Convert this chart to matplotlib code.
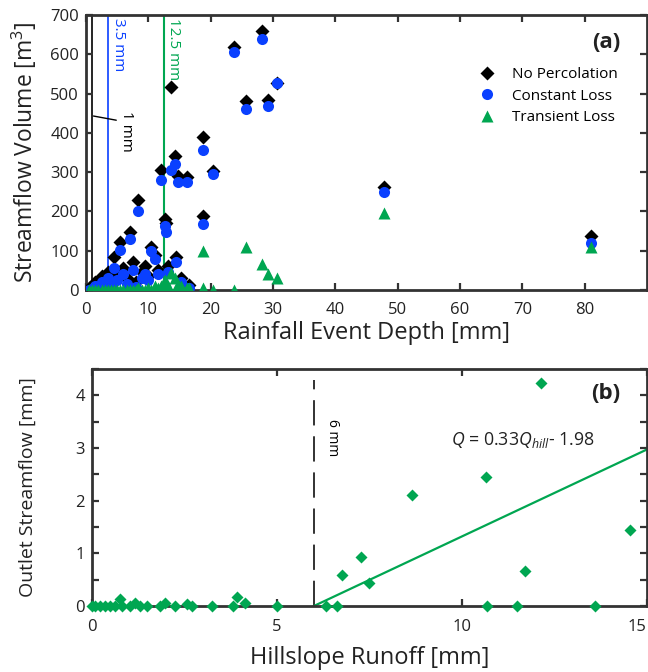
import matplotlib
matplotlib.use("Agg")
import matplotlib.pyplot as plt
from matplotlib.ticker import MultipleLocator

plt.rcParams['font.family'] = ['Open Sans', 'DejaVu Sans']
plt.rcParams['mathtext.fontset'] = 'custom'
plt.rcParams['mathtext.it'] = 'Open Sans:italic'
plt.rcParams['mathtext.rm'] = 'Open Sans'

# ---- Panel (a): event streamflow volume vs rainfall depth ----
rain_depth = [0.5, 1.0, 1.5, 2.0, 2.5, 3.0, 3.5, 4.0, 4.5, 5.0, 5.5, 6.0, 6.5, 7.0,
              7.5, 8.0, 8.4, 9.0, 9.5, 10.0, 10.4, 11.0, 11.5, 12.0, 12.6, 12.8,
              13.2, 13.7, 14.3, 14.4, 14.7, 15.2, 16.2, 16.5, 18.8, 18.8, 20.4,
              23.8, 25.7, 28.3, 29.2, 30.7, 47.8, 81.0]
no_percolation = [5, 8, 20, 3, 35, 15, 45, 25, 83, 40, 123, 55, 30, 148,
                  70, 20, 229, 45, 60, 35, 110, 90, 50, 305, 182, 170,
                  60, 517, 341, 85, 290, 30, 288, 12, 390, 188, 304,
                  619, 482, 659, 484, 527, 262, 138]
constant_loss = [0, 2, 10, 0, 20, 5, 30, 10, 55, 25, 102, 40, 15, 131,
                 50, 8, 202, 30, 40, 25, 100, 80, 40, 280, 163, 147,
                 45, 305, 322, 72, 276, 20, 276, 5, 356, 167, 296,
                 606, 462, 640, 468, 526, 250, 120]
transient_loss = [0, 0, 0, 0, 0, 0, 0, 0, 0, 0, 0, 0, 0, 0,
                  0, 0, 5, 0, 0, 5, 0, 10, 5, 10, 25, 5,
                  10, 42, 30, 5, 5, 10, 5, 5, 98, 5, 0,
                  0, 110, 65, 40, 30, 195, 110]

# ---- Panel (b): outlet streamflow vs hillslope runoff ----
hill_runoff = [0.0, 0.08, 0.22, 0.35, 0.49, 0.62, 0.77, 0.8, 1.03, 1.16, 1.3, 1.48,
               1.84, 1.97, 2.24, 2.56, 2.7, 3.24, 3.82, 3.91, 4.14, 4.99, 6.34,
               6.63, 6.77, 7.27, 7.5, 8.66, 10.65, 10.69, 11.5, 11.7, 12.14,
               13.6, 14.54]
outlet_flow = [0, 0, 0, 0, 0, 0, 0.13, 0, 0, 0.05, 0, 0,
               0, 0.06, 0, 0.04, 0, 0, 0, 0.18, 0.06, 0, 0,
               0, 0.58, 0.93, 0.43, 2.10, 2.45, 0, 0, 0.67, 4.24,
               0, 1.45]
fit_slope, fit_intercept = 0.33, -1.98
fit_threshold = 6.0
xmax_b = 15.0

BLUE = '#0a40ff'
GREEN = '#00a651'
AXCOL = '#333333'
TXT = '#222222'

fig = plt.figure(figsize=(6.48, 6.72), dpi=100)
ax1 = fig.add_axes([0.1327, 0.5685, 0.866, 0.409])
ax2 = fig.add_axes([0.142, 0.0982, 0.856, 0.3527])


def style_axes(ax):
    for s in ax.spines.values():
        s.set_linewidth(2.0)
        s.set_color(AXCOL)
    ax.tick_params(which='both', direction='in', top=True, right=True,
                   color=AXCOL, width=1.6, labelsize=12, labelcolor=TXT)
    ax.tick_params(axis='x', pad=9)
    ax.tick_params(axis='y', pad=5)
    ax.tick_params(which='major', length=5)
    ax.tick_params(which='minor', length=5)


# threshold lines
ax1.axvline(1.0, color='black', lw=1.2, zorder=1)
ax1.axvline(3.5, color=BLUE, lw=1.2, zorder=1)
ax1.axvline(12.5, color=GREEN, lw=1.5, zorder=1)

ax1.plot(rain_depth, no_percolation, 'D', color='black', ms=7, mec='none',
         label='No Percolation', zorder=3)
ax1.plot(rain_depth, constant_loss, 'o', color=BLUE, ms=8, mec='none',
         label='Constant Loss', zorder=4)
ax1.plot(rain_depth, transient_loss, '^', color=GREEN, ms=9, mec='none',
         label='Transient Loss', zorder=5)

ax1.set_xlim(0, 90)
ax1.set_ylim(0, 700)
ax1.set_xticks([0, 10, 20, 30, 40, 50, 60, 70, 80])
ax1.yaxis.set_major_locator(MultipleLocator(100))
style_axes(ax1)
ax1.set_xlabel('Rainfall Event Depth [mm]', fontsize=17, color=TXT, labelpad=2)
ax1.set_ylabel('Streamflow Volume [m$^3$]', fontsize=16.5, color=TXT, labelpad=8)

ax1.text(4.0, 692, '3.5 mm', rotation=-90, color=BLUE, fontsize=11,
         va='top', ha='left')
ax1.text(12.8, 692, '12.5 mm', rotation=-90, color=GREEN, fontsize=11,
         va='top', ha='left')
ax1.annotate('1 mm', xy=(1.2, 443), xytext=(5.3, 457), rotation=-90,
             fontsize=11, va='top', ha='left',
             arrowprops=dict(arrowstyle='-', color='black', lw=1,
                             shrinkA=0, shrinkB=0, relpos=(0, 0.75)))
ax1.text(0.952, 0.94, '(a)', transform=ax1.transAxes, ha='right', va='top',
         fontsize=16, fontweight='bold', color=TXT)
leg = ax1.legend(loc='upper left', bbox_to_anchor=(0.699, 0.81), frameon=False,
                 fontsize=11, handletextpad=1.0, labelspacing=0.42,
                 handlelength=1.2, borderaxespad=0, borderpad=0)

# panel (b)
ax2.plot([fit_threshold, fit_threshold], [0, 4.3], color=TXT, lw=1.3,
         dashes=(14, 6), zorder=1)
ax2.plot([fit_threshold, xmax_b],
         [fit_slope * fit_threshold + fit_intercept, fit_slope * xmax_b + fit_intercept],
         color=GREEN, lw=1.6, zorder=2)
ax2.plot(hill_runoff, outlet_flow, 'D', color=GREEN, ms=6.5, mec='none',
         clip_on=False, zorder=3)
ax2.set_xlim(0, 15)
ax2.set_ylim(0, 4.5)
ax2.set_xticks([0, 5, 10, 15])
ax2.yaxis.set_major_locator(MultipleLocator(1))
ax2.yaxis.set_minor_locator(MultipleLocator(0.5))
style_axes(ax2)
ax2.get_xticklabels()[-1].set_horizontalalignment('right')
ax2.set_xlabel('Hillslope Runoff [mm]', fontsize=17, color=TXT, labelpad=8)
ax2.set_ylabel('Outlet Streamflow [mm]', fontsize=14, color=TXT, labelpad=28)
ax2.text(fit_threshold + 0.3, 3.55, '6 mm', rotation=-90, fontsize=10,
         va='top', ha='left')
ax2.text(11.65, 3.16, r'$Q$ = 0.33$Q_{hill}$- 1.98', fontsize=12.8,
         ha='center', va='center', color=TXT)
ax2.text(0.952, 0.94, '(b)', transform=ax2.transAxes, ha='right', va='top',
         fontsize=16, fontweight='bold', color=TXT)

fig.savefig('out.png', dpi=100)
